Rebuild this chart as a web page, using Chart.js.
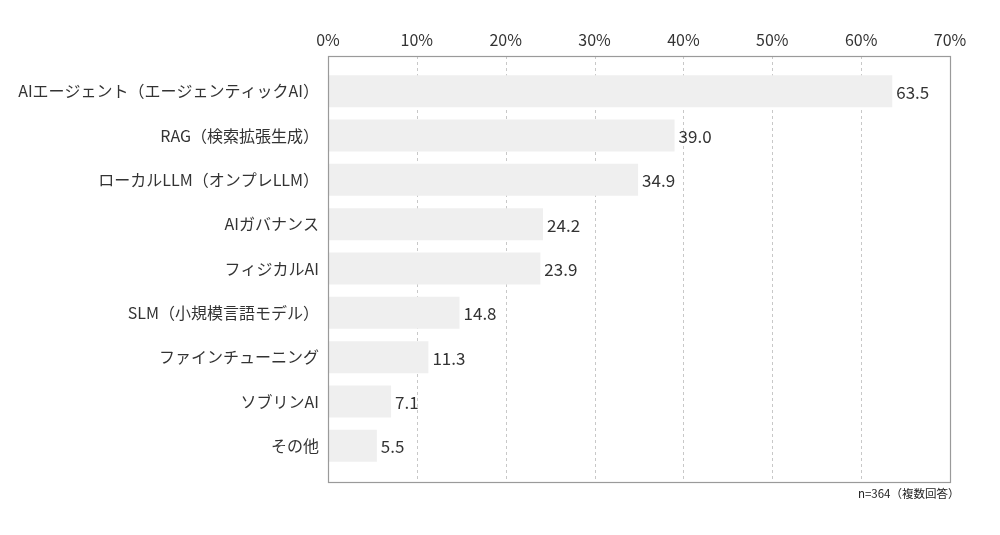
<!DOCTYPE html>
<html>
<head>
<meta charset="utf-8">
<script src="https://cdn.jsdelivr.net/npm/chart.js@4/dist/chart.umd.min.js"></script>
<style>
  html, body { margin: 0; padding: 0; background: #fff; }
  #wrap { width: 1000px; height: 535px; position: relative; }
</style>
</head>
<body>
<div id="wrap"><canvas id="c" width="1000" height="535"></canvas></div>
<script>
const categories = [
  "AIエージェント（エージェンティックAI）",
  "RAG（検索拡張生成）",
  "ローカルLLM（オンプレLLM）",
  "AIガバナンス",
  "フィジカルAI",
  "SLM（小規模言語モデル）",
  "ファインチューニング",
  "ソブリンAI",
  "その他"
];
const values = [63.5, 39.0, 34.9, 24.2, 23.9, 14.8, 11.3, 7.1, 5.5];
const tickValues = [0, 10, 20, 30, 40, 50, 60, 70];
const note = "n=364（複数回答）";

const FONT = "'Noto Sans CJK JP', 'Noto Sans', sans-serif";

const framePlugin = {
  id: 'frame',
  beforeDatasetsDraw(chart) {
    const { ctx, chartArea, scales } = chart;
    const top = chartArea.top - 13, bottom = chartArea.bottom + 14;
    ctx.save();
    ctx.strokeStyle = '#c8c8c8';
    ctx.lineWidth = 1;
    ctx.setLineDash([3, 3]);
    tickValues.forEach(v => {
      if (v === tickValues[0] || v === tickValues[tickValues.length - 1]) return;
      const x = Math.round(scales.x.getPixelForValue(v)) + 0.5;
      ctx.beginPath();
      ctx.moveTo(x, top);
      ctx.lineTo(x, bottom);
      ctx.stroke();
    });
    ctx.restore();
  },
  afterDatasetsDraw(chart) {
    const { ctx, chartArea, scales } = chart;
    const top = chartArea.top - 13, bottom = chartArea.bottom + 14;
    const left = Math.round(scales.x.getPixelForValue(tickValues[0])) + 0.5;
    const right = Math.round(scales.x.getPixelForValue(tickValues[tickValues.length - 1])) + 0.5;
    ctx.save();
    ctx.strokeStyle = '#9a9a9a';
    ctx.lineWidth = 1.2;
    ctx.strokeRect(left, Math.round(top) + 0.5, right - left, Math.round(bottom) - Math.round(top));
    // value labels
    const meta = chart.getDatasetMeta(0);
    ctx.fillStyle = '#333';
    ctx.font = '17px ' + FONT;
    ctx.textAlign = 'left';
    ctx.textBaseline = 'middle';
    meta.data.forEach((bar, i) => {
      ctx.fillText(values[i].toFixed(1), bar.x + 4, bar.y + 1);
    });
    // note
    ctx.font = '11.5px ' + FONT;
    ctx.fillStyle = '#222';
    ctx.textAlign = 'right';
    ctx.fillText(note, right + 9, bottom + 12);
    ctx.restore();
  }
};

new Chart(document.getElementById('c'), {
  type: 'bar',
  data: {
    labels: categories,
    datasets: [{
      data: values,
      backgroundColor: '#efefef',
      borderWidth: 0,
      barPercentage: 0.72,
      categoryPercentage: 1.0
    }]
  },
  options: {
    indexAxis: 'y',
    responsive: false,
    animation: false,
    devicePixelRatio: 1,
    layout: { padding: { left: 0, right: 50, top: 0, bottom: 67 } },
    plugins: {
      legend: { display: false },
      tooltip: { enabled: false }
    },
    scales: {
      x: {
        position: 'top',
        min: 0,
        max: 70,
        afterFit(scale) { scale.height = 69; },
        afterBuildTicks(scale) { scale.ticks = tickValues.map(v => ({ value: v })); },
        grid: { display: false, drawTicks: false },
        border: { display: false },
        ticks: {
          padding: 19,
          color: '#333',
          font: { family: FONT, size: 16 },
          maxRotation: 0,
          autoSkip: false,
          callback: v => v + '%'
        }
      },
      y: {
        afterFit(scale) { scale.width = 328; },
        grid: { display: false, drawTicks: false },
        border: { display: false },
        ticks: {
          padding: 9,
          color: '#333',
          font: { family: FONT, size: 16 },
          autoSkip: false
        }
      }
    }
  },
  plugins: [framePlugin]
});
</script>
</body>
</html>
